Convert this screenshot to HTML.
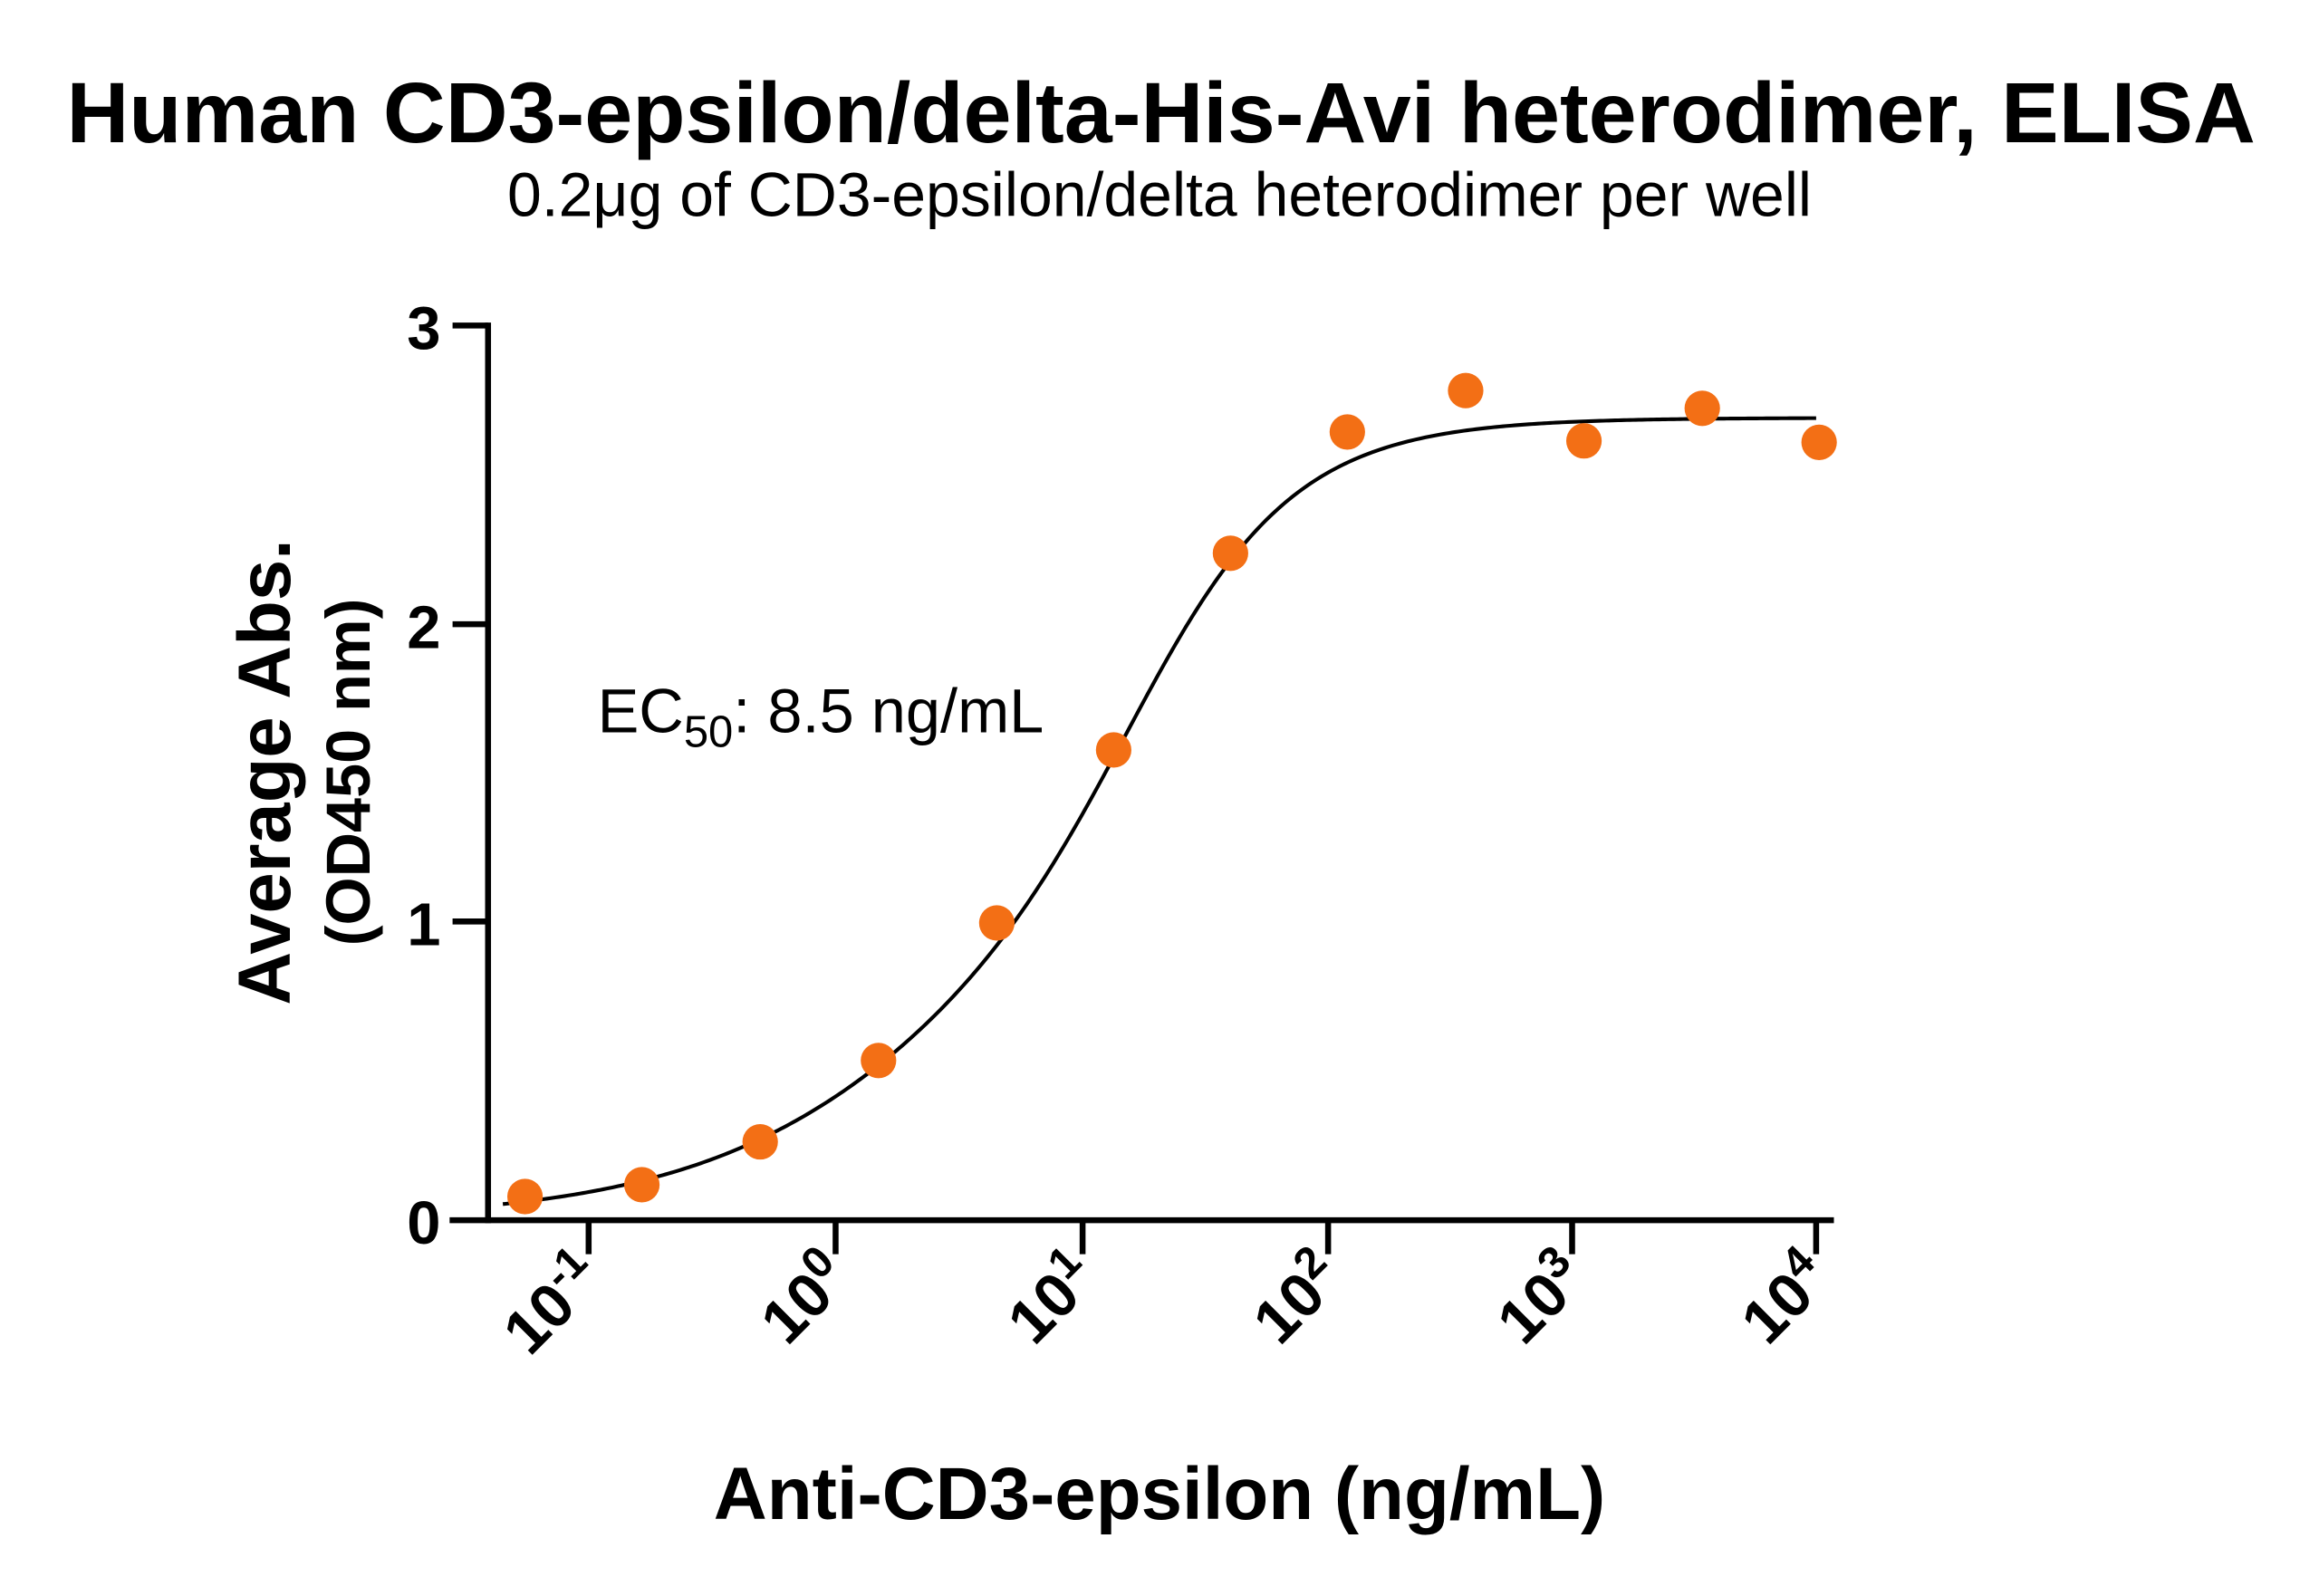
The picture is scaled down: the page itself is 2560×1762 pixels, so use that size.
<!DOCTYPE html>
<html><head><meta charset="utf-8">
<style>
html,body{margin:0;padding:0;background:#fff;}
svg{display:block;}
text{font-family:"Liberation Sans",Arial,sans-serif;fill:#000;}
</style></head>
<body>
<svg id="s" width="2560" height="1762" viewBox="0 0 1568 1079" xmlns="http://www.w3.org/2000/svg">
<rect width="1568" height="1079" fill="#fff"/>
<text x="785" y="96" font-size="58" font-weight="bold" text-anchor="middle" textLength="1480" lengthAdjust="spacingAndGlyphs">Human CD3-epsilon/delta-His-Avi heterodimer, ELISA</text>
<text x="784" y="146" font-size="42" text-anchor="middle" textLength="882" lengthAdjust="spacingAndGlyphs">0.2μg of CD3-epsilon/delta heterodimer per well</text>

<g stroke="#000" stroke-width="4" fill="none">
<line x1="330" y1="218" x2="330" y2="827"/>
<line x1="304" y1="825" x2="1240" y2="825"/>
<line x1="306" y1="220" x2="330" y2="220"/>
<line x1="306" y1="422" x2="330" y2="422"/>
<line x1="306" y1="623" x2="330" y2="623"/>
<line x1="398" y1="825" x2="398" y2="848"/>
<line x1="565" y1="825" x2="565" y2="848"/>
<line x1="732" y1="825" x2="732" y2="848"/>
<line x1="898" y1="825" x2="898" y2="848"/>
<line x1="1063" y1="825" x2="1063" y2="848"/>
<line x1="1228" y1="825" x2="1228" y2="848"/>
</g>
<g font-size="41" font-weight="bold" text-anchor="end">
<text x="298" y="236">3</text>
<text x="298" y="438">2</text>
<text x="298" y="639">1</text>
<text x="298" y="841">0</text>
</g>
<g font-size="42" font-weight="bold" text-anchor="end">
<text transform="translate(410,866) rotate(-45)">10<tspan dy="-16" font-size="30">-1</tspan></text>
<text transform="translate(577,866) rotate(-45)">10<tspan dy="-16" font-size="30">0</tspan></text>
<text transform="translate(744,866) rotate(-45)">10<tspan dy="-16" font-size="30">1</tspan></text>
<text transform="translate(910,866) rotate(-45)">10<tspan dy="-16" font-size="30">2</tspan></text>
<text transform="translate(1075,866) rotate(-45)">10<tspan dy="-16" font-size="30">3</tspan></text>
<text transform="translate(1240,866) rotate(-45)">10<tspan dy="-16" font-size="30">4</tspan></text>
</g>
<text x="784" y="1027" font-size="50" font-weight="bold" text-anchor="middle" textLength="603" lengthAdjust="spacingAndGlyphs">Anti-CD3-epsilon (ng/mL)</text>
<text transform="translate(196,522) rotate(-90)" font-size="50" font-weight="bold" text-anchor="middle" textLength="315" lengthAdjust="spacingAndGlyphs">Average Abs.</text>
<text transform="translate(250,522) rotate(-90)" font-size="42" font-weight="bold" text-anchor="middle" textLength="235" lengthAdjust="spacingAndGlyphs">(OD450 nm)</text>
<text x="404" y="495" font-size="42">EC<tspan dy="10" font-size="30">50</tspan><tspan dy="-10">: 8.5 ng/mL</tspan></text>

<path id="curve" fill="none" stroke="#000" stroke-width="2.5"/>
<g fill="#f36f15">
<circle cx="355" cy="809" r="12"/>
<circle cx="434" cy="801" r="12"/>
<circle cx="514" cy="772" r="12"/>
<circle cx="594" cy="717" r="12"/>
<circle cx="674" cy="624" r="12"/>
<circle cx="753" cy="507" r="12"/>
<circle cx="832" cy="374" r="12"/>
<circle cx="911" cy="292" r="12"/>
<circle cx="991" cy="264" r="12"/>
<circle cx="1071" cy="298" r="12"/>
<circle cx="1151" cy="276" r="12"/>
<circle cx="1230" cy="299" r="12"/>
</g>
</svg>
<script>
(function(){
var top=2.69,x0=730,d="";
for(var x=340;x<=1228;x+=2){
  var b=1/(1+Math.exp(-(x-x0)/60));
  var h=0.72+(1.15-0.72)*b;
  var v=top/(1+Math.pow(10,(x0-x)/166.5*h));
  var y=825-v*201.7;
  d+=(x==340?"M":"L")+x+" "+y.toFixed(2)+" ";
}
document.getElementById("curve").setAttribute("d",d);
})();
</script>
</body></html>
